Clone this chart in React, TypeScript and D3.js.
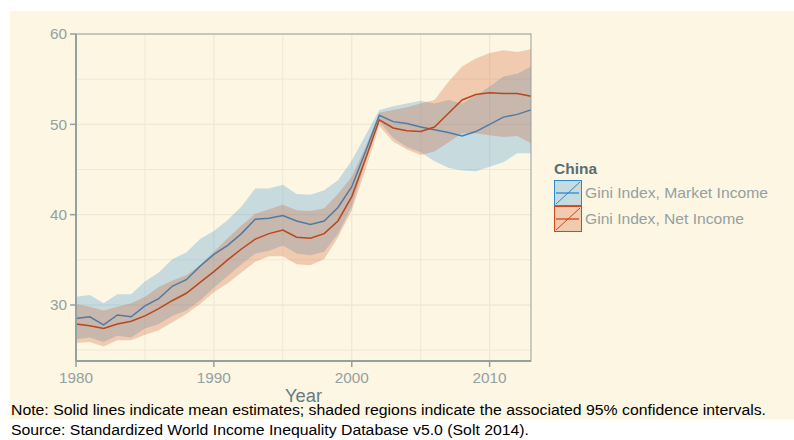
import React from 'react';
import * as d3 from 'd3';

const years = d3.range(1980, 2014);

const marketMean = [28.5, 28.7, 27.8, 28.9, 28.7, 29.9, 30.7, 32.1, 32.8, 34.3, 35.6, 36.6, 37.9, 39.5, 39.6, 39.9, 39.3, 38.9, 39.3, 40.8, 43.1, 47.0, 51.0, 50.3, 50.1, 49.7, 49.4, 49.1, 48.7, 49.2, 50.0, 50.8, 51.1, 51.6];
const marketLow = [26.2, 26.4, 25.9, 26.6, 26.4, 27.4, 27.9, 28.8, 29.4, 30.5, 31.9, 33.2, 34.5, 35.7, 36.0, 36.6, 35.7, 35.5, 35.9, 37.9, 40.9, 45.8, 50.3, 48.5, 47.5, 46.9, 45.9, 45.2, 44.9, 44.8, 45.3, 45.8, 46.8, 46.8];
const marketHigh = [30.9, 31.1, 30.2, 31.2, 31.2, 32.6, 33.6, 35.1, 35.8, 37.3, 38.2, 39.4, 40.9, 42.9, 42.9, 43.3, 42.3, 42.2, 42.7, 43.8, 46.0, 48.8, 51.6, 52.0, 52.3, 52.6, 52.3, 52.7, 52.3, 53.2, 54.2, 55.3, 55.6, 56.4];

const netMean = [27.9, 27.7, 27.4, 27.9, 28.2, 28.8, 29.6, 30.5, 31.3, 32.5, 33.7, 35.0, 36.2, 37.3, 37.9, 38.3, 37.5, 37.4, 37.9, 39.3, 42.0, 46.2, 50.5, 49.6, 49.3, 49.2, 49.7, 51.2, 52.7, 53.3, 53.5, 53.4, 53.4, 53.1];
const netLow = [25.8, 25.9, 25.4, 26.1, 26.1, 26.7, 27.2, 28.1, 29.0, 30.1, 31.4, 32.4, 33.6, 34.8, 35.4, 35.4, 34.5, 34.4, 35.1, 37.5, 40.5, 45.0, 49.8, 48.1, 47.2, 46.6, 47.0, 48.0, 49.0, 49.0, 48.8, 48.6, 48.7, 47.9];
const netHigh = [30.1, 29.8, 29.4, 29.8, 30.2, 30.9, 32.0, 32.7, 33.3, 34.4, 35.9, 37.4, 38.8, 40.1, 40.6, 41.1, 40.5, 40.4, 40.7, 42.3, 44.2, 47.5, 51.3, 51.6, 51.9, 52.3, 52.7, 54.7, 56.4, 57.3, 57.9, 58.2, 58.0, 58.3];

const seriesNames = ['Gini Index, Market Income', 'Gini Index, Net Income'];
const xTicks = [1980, 1990, 2000, 2010];
const xMinor = [1985, 1995, 2005];
const yTicks = [30, 40, 50, 60];
const yMinor = [25, 35, 45, 55];

const bg = '#fdf6e3';
const grid = '#eee8d5';
const axisCol = '#93a1a1';
const font = '"Liberation Sans", Arial, Helvetica, sans-serif';

export default function App() {
  const left = 76, right = 531, top = 34, bottom = 361;
  const x = d3.scaleLinear().domain([1980, 2013]).range([left, right]);
  const y = d3.scaleLinear().domain([23.8, 60]).range([bottom, top]);

  const series = [
    { name: seriesNames[0], mean: marketMean, lo: marketLow, hi: marketHigh, color: '#268bd2', line: '#268bd2', w: 183 },
    { name: seriesNames[1], mean: netMean, lo: netLow, hi: netHigh, color: '#cb4b16', line: '#b8471c', w: 159 },
  ];

  const area = (lo: number[], hi: number[]) =>
    d3.area<number>()
      .x((d) => x(d))
      .y0((_, i) => y(lo[i]))
      .y1((_, i) => y(hi[i]))(years) || '';
  const line = (m: number[]) =>
    d3.line<number>()
      .x((d) => x(d))
      .y((_, i) => y(m[i]))(years) || '';

  return (
    <svg width={794} height={440} style={{ position: 'absolute', left: 0, top: 0, fontFamily: font }}>
      <rect x={0} y={0} width={794} height={440} fill="#ffffff" />
      <rect x={10} y={11} width={784} height={408} fill={bg} />

      {/* grid */}
      {yMinor.map((v) => (
        <line key={'ym' + v} x1={left} x2={right} y1={y(v)} y2={y(v)} stroke={grid} strokeWidth={1} />
      ))}
      {xMinor.map((v) => (
        <line key={'xm' + v} x1={x(v)} x2={x(v)} y1={top} y2={bottom} stroke={grid} strokeWidth={1} />
      ))}
      {yTicks.map((v) => (
        <line key={'yg' + v} x1={left} x2={right} y1={y(v)} y2={y(v)} stroke={grid} strokeWidth={1.3} />
      ))}
      {xTicks.map((v) => (
        <line key={'xg' + v} x1={x(v)} x2={x(v)} y1={top} y2={bottom} stroke={grid} strokeWidth={1.3} />
      ))}

      {/* ribbons and lines */}
      {series.map((s) => (
        <g key={s.name}>
          <path d={area(s.lo, s.hi)} fill={s.color} fillOpacity={0.25} />
          <path d={line(s.mean)} fill="none" stroke={s.line} strokeWidth={1.5} />
        </g>
      ))}

      {/* panel border + axes */}
      <rect x={left} y={top} width={right - left} height={bottom - top} fill="none" stroke={axisCol} strokeWidth={1} />
      <line x1={left} x2={left} y1={top} y2={bottom} stroke={axisCol} strokeWidth={2} />
      <line x1={left} x2={right} y1={bottom} y2={bottom} stroke={axisCol} strokeWidth={2} />

      {yTicks.map((v) => (
        <g key={'yt' + v}>
          <line x1={left - 6} x2={left} y1={y(v)} y2={y(v)} stroke={axisCol} strokeWidth={1.5} />
          <text x={left - 9} y={y(v)} dy="0.36em" textAnchor="end" fontSize={14.5} fill={axisCol}
            textLength={17} lengthAdjust="spacingAndGlyphs">{v}</text>
        </g>
      ))}
      {xTicks.map((v) => (
        <g key={'xt' + v}>
          <line x1={x(v)} x2={x(v)} y1={bottom} y2={bottom + 6} stroke={axisCol} strokeWidth={1.5} />
          <text x={x(v)} y={383} textAnchor="middle" fontSize={14.5} fill={axisCol}
            textLength={34} lengthAdjust="spacingAndGlyphs">{v}</text>
        </g>
      ))}
      <text x={(left + right) / 2} y={402} textAnchor="middle" fontSize={18} fill="#657b83"
        textLength={37} lengthAdjust="spacingAndGlyphs">Year</text>

      {/* legend */}
      <text x={554} y={174} fontSize={14} fontWeight="bold" fill="#586e75"
        textLength={43} lengthAdjust="spacingAndGlyphs">China</text>
      {series.map((s, i) => {
        const ky = 180 + i * 26;
        return (
          <g key={'lg' + s.name}>
            <rect x={554.5} y={ky + 0.5} width={27} height={25} fill={bg} />
            <rect x={554.5} y={ky + 0.5} width={27} height={25} fill={s.color} fillOpacity={0.25} stroke={s.color} strokeWidth={1} />
            <line x1={556} x2={580} y1={ky + 24} y2={ky + 2} stroke={s.color} strokeWidth={1} />
            <line x1={556} x2={579} y1={ky + 13} y2={ky + 13} stroke={s.color} strokeWidth={1.3} />
            <text x={585} y={ky + 18} fontSize={14.5} fill={axisCol}
              textLength={s.w} lengthAdjust="spacingAndGlyphs">{s.name}</text>
          </g>
        );
      })}

      {/* notes */}
      <text x={11} y={415} fontSize={14} fill="#000" textLength={755} lengthAdjust="spacingAndGlyphs">
        Note: Solid lines indicate mean estimates; shaded regions indicate the associated 95% confidence intervals.
      </text>
      <text x={11} y={435} fontSize={14} fill="#000" textLength={518} lengthAdjust="spacingAndGlyphs">
        Source: Standardized World Income Inequality Database v5.0 (Solt 2014).
      </text>
    </svg>
  );
}
